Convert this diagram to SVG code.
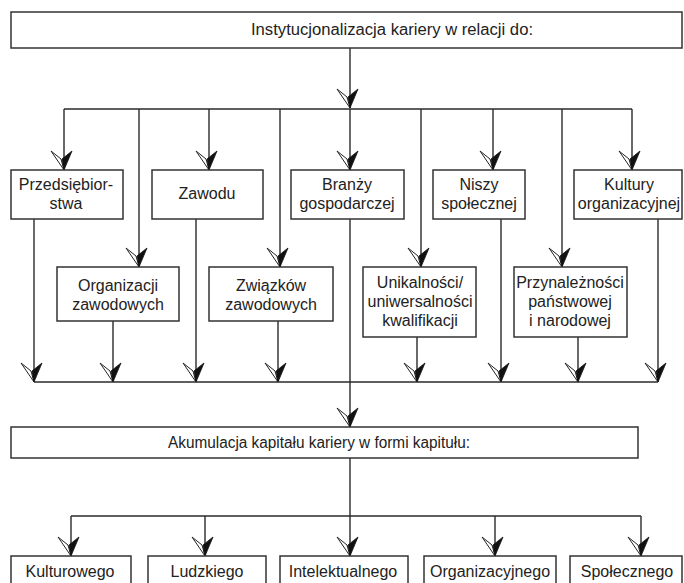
<svg xmlns="http://www.w3.org/2000/svg" width="684" height="583" viewBox="0 0 684 583">
  <defs>
    <style>
      .box { fill: #fff; stroke: #333; stroke-width: 1.5; }
      .lbl { font-family: "Liberation Sans", Arial, sans-serif; font-size: 16px; fill: #222; text-anchor: middle; }
      .ln { fill: none; stroke: #2a2a2a; stroke-width: 1.4; }
      .arr { marker-end: url(#ah); }
    </style>
    <!-- half-open, half-filled arrowhead; tip at the line end -->
    <marker id="ah" markerUnits="userSpaceOnUse" viewBox="-21 -15 23 30" refX="0" refY="0" markerWidth="23" markerHeight="30" orient="auto">
      <path d="M-19,13 L0,0 L-11,3 Z" fill="#fff" stroke="#222" stroke-width="1"/>
      <path d="M0,0 L-19,-8 L-11,2 Z" fill="#111" stroke="#111" stroke-width="0.8"/>
    </marker>
  </defs>
  <rect width="684" height="583" fill="#fff"/>

  <g id="connectors">
    <path class="ln arr" d="M350,48 V108"/>
    <path class="ln" d="M64,109 H632"/>
    <path class="ln arr" d="M64,109 V170"/>
    <path class="ln arr" d="M209,109 V170"/>
    <path class="ln arr" d="M350,109 V170"/>
    <path class="ln arr" d="M493,109 V170"/>
    <path class="ln arr" d="M632,109 V170"/>
    <path class="ln arr" d="M139,109 V267"/>
    <path class="ln arr" d="M280,109 V267"/>
    <path class="ln arr" d="M421,109 V267"/>
    <path class="ln arr" d="M562,109 V267"/>
    <path class="ln arr" d="M34,219 V382"/>
    <path class="ln arr" d="M113,321 V382"/>
    <path class="ln arr" d="M196,219 V382"/>
    <path class="ln arr" d="M278,321 V382"/>
    <path class="ln arr" d="M417,337 V382"/>
    <path class="ln arr" d="M501,219 V382"/>
    <path class="ln arr" d="M578,337 V382"/>
    <path class="ln arr" d="M658,219 V382"/>
    <path class="ln" d="M34,382 H658"/>
    <path class="ln arr" d="M350,219 V427"/>
    <path class="ln" d="M350,458 V516"/>
    <path class="ln" d="M71,516 H641"/>
    <path class="ln arr" d="M71,516 V556"/>
    <path class="ln arr" d="M205,516 V556"/>
    <path class="ln arr" d="M350,516 V556"/>
    <path class="ln arr" d="M495,516 V556"/>
    <path class="ln arr" d="M641,516 V556"/>
  </g>

  <g id="instytucjonalizacja">
    <rect class="box" x="11" y="12" width="671" height="36"/>
    <text class="lbl" x="392" y="35" textLength="282" lengthAdjust="spacingAndGlyphs">Instytucjonalizacja kariery w relacji do:</text>
  </g>

  <g id="przedsiebiorstwa">
    <rect class="box" x="11" y="170" width="112" height="49"/>
    <text class="lbl" x="66" y="190">Przedsiębior-</text>
    <text class="lbl" x="66" y="209">stwa</text>
  </g>
  <g id="zawodu">
    <rect class="box" x="152" y="170" width="111" height="49"/>
    <text class="lbl" x="207" y="199">Zawodu</text>
  </g>
  <g id="branzy">
    <rect class="box" x="291" y="170" width="113" height="49"/>
    <text class="lbl" x="347" y="190">Branży</text>
    <text class="lbl" x="347" y="209">gospodarczej</text>
  </g>
  <g id="niszy">
    <rect class="box" x="433" y="170" width="92" height="49"/>
    <text class="lbl" x="479" y="190">Niszy</text>
    <text class="lbl" x="479" y="209">społecznej</text>
  </g>
  <g id="kultury">
    <rect class="box" x="574" y="170" width="108" height="49"/>
    <text class="lbl" x="629" y="190">Kultury</text>
    <text class="lbl" x="629" y="209">organizacyjnej</text>
  </g>

  <g id="organizacji">
    <rect class="box" x="57" y="267" width="122" height="54"/>
    <text class="lbl" x="118" y="291">Organizacji</text>
    <text class="lbl" x="118" y="310">zawodowych</text>
  </g>
  <g id="zwiazkow">
    <rect class="box" x="209" y="267" width="124" height="54"/>
    <text class="lbl" x="271" y="291">Związków</text>
    <text class="lbl" x="271" y="310">zawodowych</text>
  </g>
  <g id="unikalnosci">
    <rect class="box" x="363" y="267" width="113" height="70"/>
    <text class="lbl" x="420" y="288">Unikalności/</text>
    <text class="lbl" x="420" y="307">uniwersalności</text>
    <text class="lbl" x="420" y="326">kwalifikacji</text>
  </g>
  <g id="przynaleznosci">
    <rect class="box" x="514" y="267" width="113" height="70"/>
    <text class="lbl" x="570" y="288">Przynależności</text>
    <text class="lbl" x="570" y="307">państwowej</text>
    <text class="lbl" x="570" y="326">i narodowej</text>
  </g>

  <g id="akumulacja">
    <rect class="box" x="11" y="427" width="627" height="31"/>
    <text class="lbl" x="319" y="448" textLength="302" lengthAdjust="spacingAndGlyphs">Akumulacja kapitału kariery w formi kapitułu:</text>
  </g>

  <g id="kulturowego">
    <rect class="box" x="11" y="556" width="120" height="40"/>
    <text class="lbl" x="70" y="577">Kulturowego</text>
  </g>
  <g id="ludzkiego">
    <rect class="box" x="148" y="556" width="118" height="40"/>
    <text class="lbl" x="207" y="577">Ludzkiego</text>
  </g>
  <g id="intelektualnego">
    <rect class="box" x="280" y="556" width="128" height="40"/>
    <text class="lbl" x="343" y="577">Intelektualnego</text>
  </g>
  <g id="organizacyjnego">
    <rect class="box" x="424" y="556" width="132" height="40"/>
    <text class="lbl" x="490" y="577">Organizacyjnego</text>
  </g>
  <g id="spolecznego">
    <rect class="box" x="570" y="556" width="112" height="40"/>
    <text class="lbl" x="627" y="577">Społecznego</text>
  </g>
</svg>
